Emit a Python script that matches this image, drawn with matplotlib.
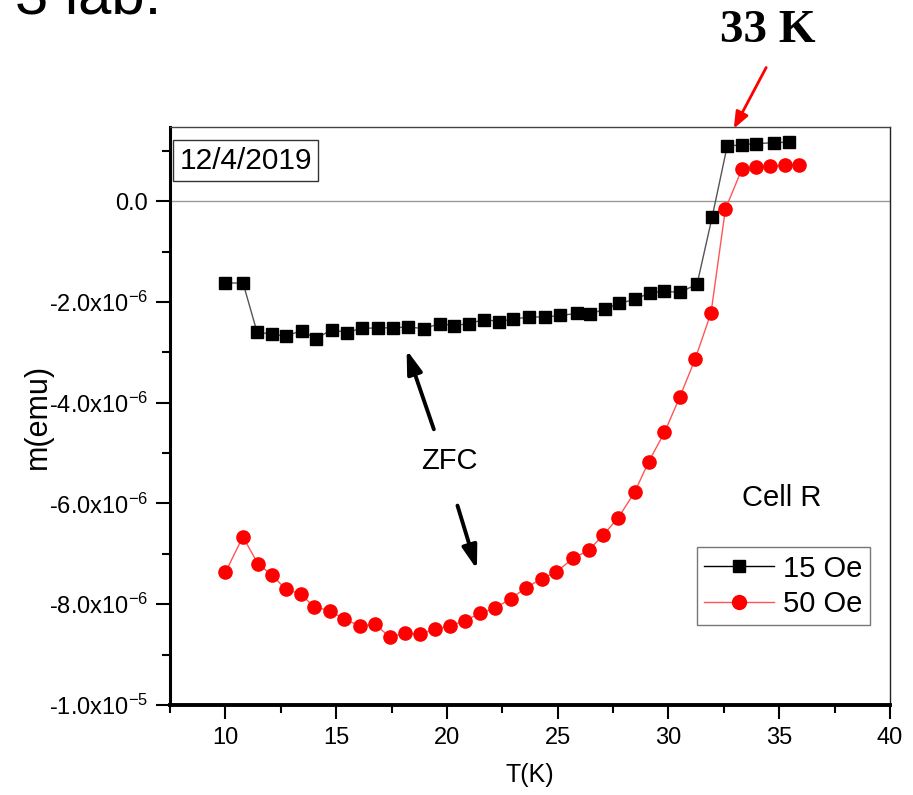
import matplotlib
matplotlib.use("Agg");
import matplotlib.pyplot as plt;
import numpy as np;

plt.rcParams['font.family'] = ['Liberation Sans', 'DejaVu Sans'];
plt.rcParams['mathtext.fontset'] = 'custom';
plt.rcParams['mathtext.rm'] = 'Liberation Sans';
plt.rcParams['mathtext.default'] = 'regular';

# ZFC data, 15 Oe (black squares), m in units of 1e-6 emu
temp15 = [10.0, 10.8, 11.43, 12.1, 12.72, 13.44, 14.1, 14.8, 15.48, 16.18,
          16.88, 17.57, 18.26, 18.98, 19.67, 20.34, 21.0, 21.69, 22.35, 23.0,
          23.7, 24.43, 25.1, 25.85, 26.48, 27.14, 27.77, 28.49, 29.16, 29.82,
          30.51, 31.29, 31.97, 32.65, 33.32, 33.97, 34.75, 35.42];
m15 = [-1.62, -1.63, -2.60, -2.64, -2.68, -2.57, -2.73, -2.55, -2.61, -2.52,
       -2.52, -2.51, -2.50, -2.53, -2.43, -2.47, -2.43, -2.35, -2.39, -2.34,
       -2.30, -2.30, -2.27, -2.23, -2.24, -2.14, -2.03, -1.95, -1.82, -1.79,
       -1.81, -1.65, -0.32, 1.09, 1.12, 1.14, 1.16, 1.17];

# ZFC data, 50 Oe (red circles)
temp50 = [10.0, 10.79, 11.47, 12.1, 12.72, 13.4, 14.0, 14.72, 15.37, 16.09,
          16.75, 17.43, 18.11, 18.8, 19.46, 20.13, 20.8, 21.48, 22.17, 22.87,
          23.59, 24.29, 24.94, 25.69, 26.4, 27.05, 27.74, 28.47, 29.11, 29.82,
          30.51, 31.2, 31.92, 32.57, 33.32, 33.97, 34.6, 35.26, 35.9];
m50 = [-7.37, -6.66, -7.20, -7.42, -7.70, -7.80, -8.05, -8.13, -8.30, -8.43,
       -8.40, -8.65, -8.58, -8.59, -8.50, -8.43, -8.33, -8.18, -8.08, -7.89,
       -7.67, -7.49, -7.36, -7.09, -6.93, -6.63, -6.28, -5.78, -5.17, -4.59,
       -3.89, -3.14, -2.22, -0.16, 0.64, 0.67, 0.69, 0.71, 0.72];

seriesNames = ["15 Oe", "50 Oe"];
xTicks = [10, 15, 20, 25, 30, 35, 40];
yTicks = [0.0, -2e-6, -4e-6, -6e-6, -8e-6, -1e-5];
yTickLabels = ["0.0", "-2.0x10$^{-6}$", "-4.0x10$^{-6}$", "-6.0x10$^{-6}$",
               "-8.0x10$^{-6}$", "-1.0x10$^{-5}$"];

fig = plt.figure(figsize=(9.13, 7.95), dpi=100);
ax = fig.add_axes([0.1862, 0.1132, 0.7886, 0.7270]);

ax.axhline(0.0, color="#9a9a9a", lw=1.0, zorder=1);

ax.plot(temp15, np.array(m15) * 1e-6, color="#555555", lw=1.0,
        marker="s", markersize=8.8, markerfacecolor="black",
        markeredgecolor="black", label=seriesNames[0], zorder=3);
ax.plot(temp50, np.array(m50) * 1e-6, color="#ff5555", lw=1.0,
        marker="o", markersize=9.5, markerfacecolor="red",
        markeredgecolor="red", label=seriesNames[1], zorder=3);

ax.set_xlim(7.5, 40);
ax.set_ylim(-1e-5, 1.47e-6);
ax.set_xticks(xTicks);
ax.set_xticks(np.arange(7.5, 40.1, 2.5), minor=True);
ax.set_yticks(yTicks);
ax.set_yticklabels(yTickLabels);
ax.set_yticks(np.arange(-1e-5, 1.5e-6, 1e-6), minor=True);

ax.tick_params(axis="both", which="major", direction="out", length=10, width=1.5,
               labelsize=17, pad=6);
ax.tick_params(axis="both", which="minor", direction="out", length=6, width=1.5);
ax.tick_params(top=False, right=False, which="both");

ax.spines["left"].set_linewidth(2.2);
ax.spines["bottom"].set_linewidth(2.8);
ax.spines["top"].set_linewidth(1.0);
ax.spines["top"].set_color("#444444");
ax.spines["right"].set_linewidth(1.0);
ax.spines["right"].set_color("#222222");

ax.set_xlabel("T(K)", fontsize=18, labelpad=10);
ax.set_ylabel("m(emu)", fontsize=22, labelpad=-3);

leg = ax.legend(loc="upper left", bbox_to_anchor=(0.732, 0.273), fontsize=21,
                frameon=True, fancybox=False, edgecolor="#555555",
                handlelength=2.4, handletextpad=0.3, borderpad=0.25,
                labelspacing=0.25, borderaxespad=0);
leg.get_frame().set_linewidth(1.0);
for line in leg.get_lines():
    line.set_linewidth(1.0);
leg.get_lines()[0].set_color("black");
leg.get_lines()[0].set_markersize(8.5);
leg.get_lines()[1].set_markersize(10);

ax.text(0.013, 0.966, "12/4/2019", transform=ax.transAxes, fontsize=21.5,
        ha="left", va="top",
        bbox=dict(boxstyle="square,pad=0.22", facecolor="white",
                  edgecolor="#333333", lw=1.0));

ax.text(35.11, -5.89e-6, "Cell R", fontsize=21, ha="center", va="center");
ax.text(20.13, -5.16e-6, "ZFC", fontsize=21, ha="center", va="center");

ax.annotate("", xy=(18.14, -2.90e-6), xytext=(19.45, -4.58e-6),
            arrowprops=dict(arrowstyle="-|>,head_length=1.4,head_width=0.45",
                            color="black", lw=2.8));
ax.annotate("", xy=(21.39, -7.36e-6), xytext=(20.44, -5.99e-6),
            arrowprops=dict(arrowstyle="-|>,head_length=1.4,head_width=0.45",
                            color="black", lw=2.8));

ax.annotate("", xy=(32.89, 1.39e-6), xytext=(34.47, 2.70e-6),
            annotation_clip=False,
            arrowprops=dict(arrowstyle="-|>,head_length=1.0,head_width=0.4",
                            color="red", lw=2.0));
ax.text(34.47, 3.37e-6, "33 K", fontsize=34, fontweight="bold",
        family="Liberation Serif", ha="center", va="center", clip_on=False);

fig.text(0.016, 1 - 13 / 795, "3 lab.", fontsize=43, ha="left", va="baseline");

plt.savefig("out.png", dpi=100);
